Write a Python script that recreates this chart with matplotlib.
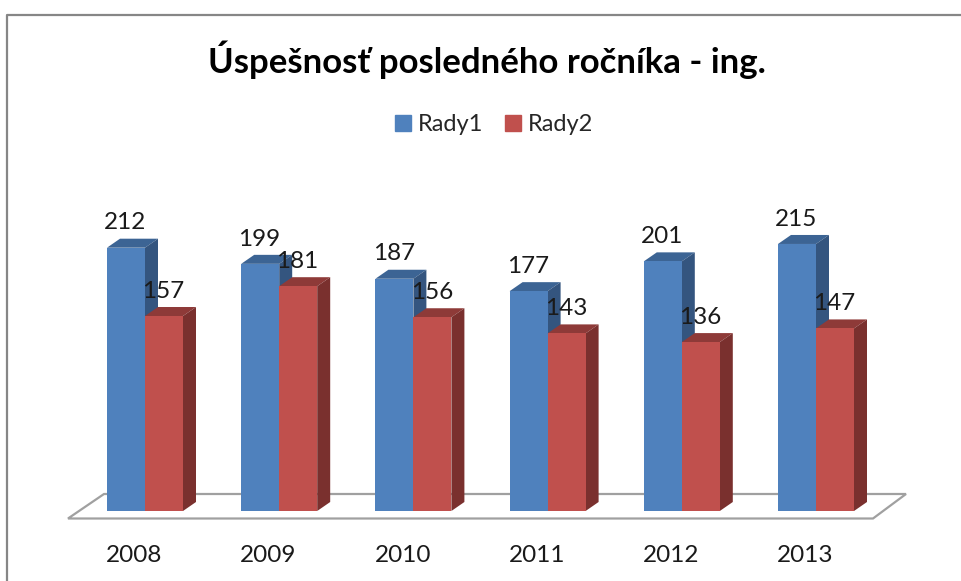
import matplotlib
matplotlib.use("Agg")
import matplotlib.pyplot as plt
from matplotlib.patches import Patch

plt.rcParams['font.family'] = ['Lato', 'DejaVu Sans']

years = ['2008', '2009', '2010', '2011', '2012', '2013']
rady1 = [212, 199, 187, 177, 201, 215]
rady2 = [157, 181, 156, 143, 136, 147]
title = 'Úspešnosť posledného ročníka - ing.'

fig = plt.figure(figsize=(9.61, 5.81), dpi=100)
ax = fig.add_axes([0, 0, 1, 1])
ax.axis('off')

# axes fill the figure, limits chosen so 1 category = 134.2 px and 1 unit = 1.242 px
px_x = 134.2
px_y = 1.242
ax.set_xlim(-145 / px_x, (961 - 145) / px_x)
ax.set_ylim(-70 / px_y, 511 / px_y)

bar_w = 38 / px_x
dx = 13 / px_x
dy = 9 / px_y

# chart border, only left and top are visible
ax.plot([7 / 961, 7 / 961, 1], [0, 1 - 14.5 / 581, 1 - 14.5 / 581], transform=ax.transAxes,
        color='#868686', lw=1.6, clip_on=False, zorder=1)

# floor
floor_x = [-77 / px_x, -41 / px_x, 761 / px_x, 728 / px_x]
floor_y = [-7.5 / px_y, 17 / px_y, 17 / px_y, -7.5 / px_y]
ax.fill(floor_x, floor_y, facecolor='white', edgecolor='#a0a0a0', lw=1.6, zorder=1.5)


def draw_3d(x, h, front, top, side, z):
    ax.bar(x, h, width=bar_w, align='edge', color=front, zorder=z + 0.2)
    ax.fill([x, x + dx, x + bar_w + dx, x + bar_w], [h, h + dy, h + dy, h], color=top, lw=0, zorder=z)
    ax.fill([x + bar_w, x + bar_w + dx, x + bar_w + dx, x + bar_w], [0, dy, h + dy, h], color=side, lw=0, zorder=z)


for i in range(len(years)):
    draw_3d(i - bar_w, rady1[i], '#4F81BD', '#3C6494', '#34557F', 2)
    draw_3d(i, rady2[i], '#C0504D', '#8E3A38', '#7A302E', 3)
    ax.text(i - bar_w / 2 - 0.005, rady1[i] + 20, str(rady1[i]), ha='center', va='center',
            fontsize=17.5, color='#1a1a1a', zorder=5)
    ax.text(i + bar_w / 2 - 0.005, rady2[i] + 20, str(rady2[i]), ha='center', va='center',
            fontsize=17.5, color='#1a1a1a', zorder=5)
    ax.text(i + bar_w / 8 - 0.115, -36, years[i], ha='center', va='center',
            fontsize=17.5, color='#1a1a1a', zorder=5)

ax.text(0.5065, 1 - 60 / 581, title, transform=ax.transAxes, ha='center', va='center',
        fontsize=25, fontweight='bold', color='black')

handles = [Patch(color='#4F81BD', label='Rady1'), Patch(color='#C0504D', label='Rady2')]
ax.legend(handles=handles, ncol=2, frameon=False, loc='center',
          bbox_to_anchor=(494 / 961, 1 - 124.5 / 581), fontsize=17, labelcolor='#262626',
          handlelength=0.68, handleheight=0.68, handletextpad=0.3, columnspacing=0.9)

fig.savefig('out.png', dpi=100)
